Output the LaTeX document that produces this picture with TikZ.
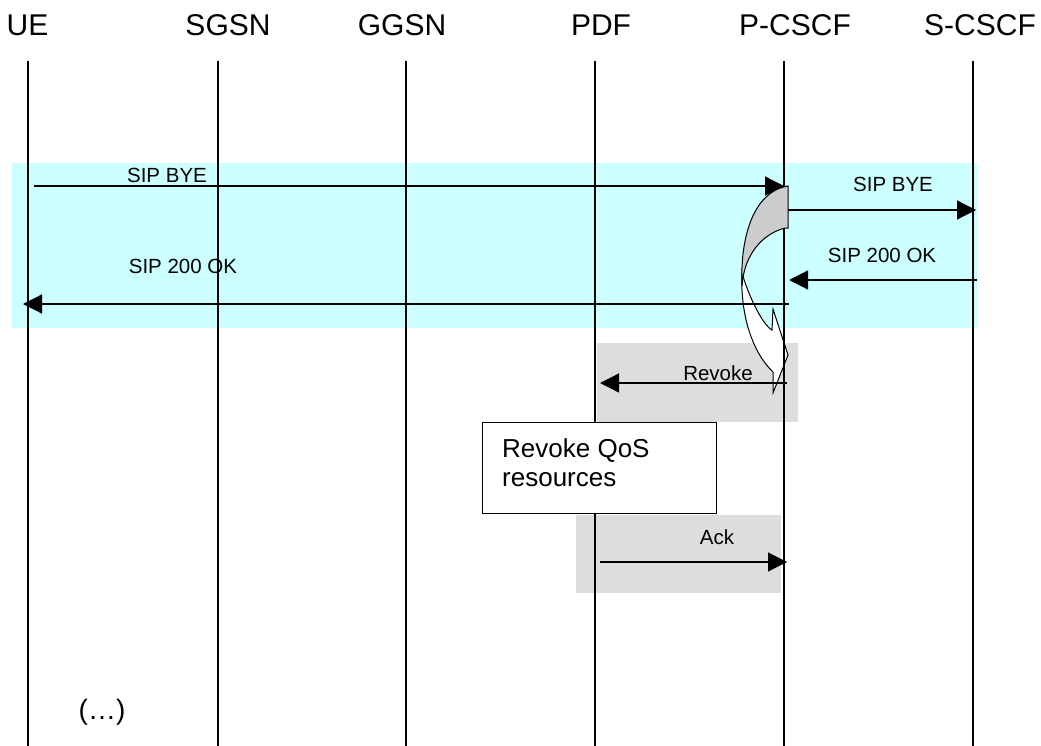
\documentclass[tikz,border=0pt]{standalone}
\usepackage{fontspec}
\setmainfont{Liberation Sans}
\usetikzlibrary{arrows.meta}

\definecolor{sipband}{HTML}{CCFFFF}
\definecolor{qosband}{HTML}{DDDDDD}
\definecolor{turngray}{HTML}{CCCCCC}

\begin{document}
\begin{tikzpicture}[x=1pt, y=-1pt,
    entity/.style={font=\fontsize{30}{34}\selectfont, inner sep=0pt, anchor=base},
    msglabel/.style={font=\fontsize{20.5}{24}\selectfont, inner sep=0pt, anchor=base},
    lifeline/.style={line width=1.2pt},
    msg/.style={line width=1.2pt, -{Triangle[length=19pt, width=19pt]}}]
    \useasboundingbox (0,0) rectangle (1041,746);

    % Background areas
    \fill[sipband] (12,163) rectangle (977,328);
    \fill[qosband] (597,343) rectangle (798,422);
    \fill[qosband] (576,515) rectangle (781,593);

    % Curved arrow, front part
    \draw[fill=white, line width=1pt] (742,272) .. controls (746,290) and (762,325) .. (772,330)
        -- (773,309) -- (788,355) -- (773,393) -- (773,372)
        .. controls (752,352) and (740,314) .. (742,272) -- cycle;

    % Draw nodes
    \node[entity] (ue) at (27.5,36) {UE};
    \node[entity] (sgsn) at (228,36) {SGSN};
    \node[entity] (ggsn) at (402,36) {GGSN};
    \node[entity] (pdf) at (601,36) {PDF};
    \node[entity] (pcscf) at (795,36) {P-CSCF};
    \node[entity] (scscf) at (980,36) {S-CSCF};

    % Lifelines
    \coordinate (ue top) at (28,61);       \coordinate (ue end) at (28,746);
    \coordinate (sgsn top) at (218,61);    \coordinate (sgsn end) at (218,746);
    \coordinate (ggsn top) at (406,61);    \coordinate (ggsn end) at (406,746);
    \coordinate (pdf top) at (595,61);     \coordinate (pdf end) at (595,746);
    \coordinate (pcscf top) at (784,61);   \coordinate (pcscf end) at (784,746);
    \coordinate (scscf top) at (973,61);   \coordinate (scscf end) at (973,746);
    \draw[lifeline] (ue top) -- (ue end);
    \draw[lifeline] (sgsn top) -- (sgsn end);
    \draw[lifeline] (ggsn top) -- (ggsn end);
    \draw[lifeline] (pdf top) -- (pdf end);
    \draw[lifeline] (pcscf top) -- (pcscf end);
    \draw[lifeline] (scscf top) -- (scscf end);

    % Draw connections
    \coordinate (bye1 from) at (34,186);    \coordinate (bye1 to) at (784,186);
    \coordinate (bye2 from) at (788,210);   \coordinate (bye2 to) at (976,210);
    \coordinate (ok1 from) at (977,280);    \coordinate (ok1 to) at (789,280);
    \coordinate (ok2 from) at (789,304);    \coordinate (ok2 to) at (23,304);
    \coordinate (revoke from) at (787,383); \coordinate (revoke to) at (600,383);
    \coordinate (ack from) at (600,562);    \coordinate (ack to) at (787,562);
    \draw[msg] (bye1 from) -- (bye1 to);
    \draw[msg] (bye2 from) -- (bye2 to);
    \draw[msg] (ok1 from) -- (ok1 to);
    \draw[msg] (ok2 from) -- (ok2 to);
    \draw[msg] (revoke from) -- (revoke to);
    \draw[msg] (ack from) -- (ack to);

    % Labels
    \node[msglabel] (bye1 label) at (167,183) {SIP BYE};
    \node[msglabel] (bye2 label) at (893,192) {SIP BYE};
    \node[msglabel] (ok1 label) at (882,262) {SIP 200 OK};
    \node[msglabel] (ok2 label) at (183,273) {SIP 200 OK};
    \node[msglabel] (revoke label) at (718,380) {Revoke};
    \node[msglabel] (ack label) at (717,544) {Ack};

    % Curved arrow, back part
    \draw[fill=turngray, line width=1pt] (788,186) -- (788,228) -- (785,228)
        .. controls (762,234) and (744,255) .. (742,286)
        .. controls (740,240) and (752,192) .. (788,186) -- cycle;

    % Action box
    \node[draw, fill=white, line width=1.2pt, minimum width=234, minimum height=91,
        inner sep=0pt, anchor=north west] (qosbox) at (482,422) {};
    \node[font=\fontsize{26}{29}\selectfont, align=left, inner sep=0pt,
        anchor=north west] (qostext) at (502,438) {Revoke QoS\\resources};

    \node[font=\fontsize{28}{32}\selectfont, inner sep=0pt] (more) at (102,712) {(\dots)};
\end{tikzpicture}
\end{document}
